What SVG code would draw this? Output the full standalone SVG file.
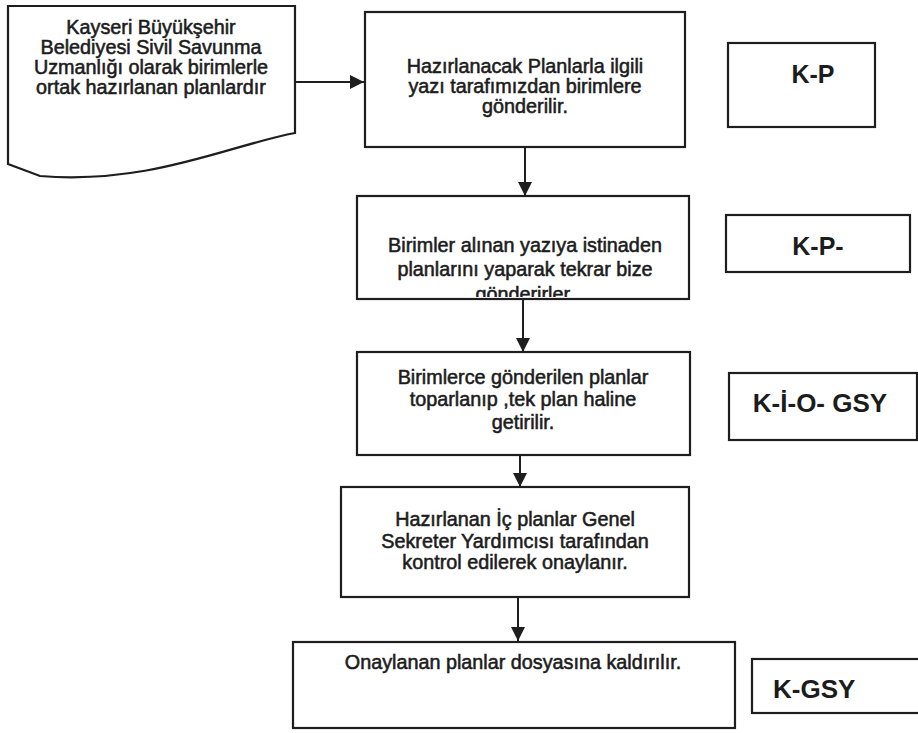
<svg xmlns="http://www.w3.org/2000/svg" width="918" height="733" viewBox="0 0 918 733">
<defs>
<style>
.box{fill:#fff;stroke:#1e1e1e;stroke-width:2.2}
.t{font-family:"Liberation Sans",Arial,sans-serif;font-size:19.8px;fill:#1c1c1c;stroke:#1c1c1c;stroke-width:0.55;text-anchor:middle}
.c{font-family:"Liberation Sans",Arial,sans-serif;font-weight:bold;fill:#1c1c1c}
.ln{stroke:#1e1e1e;stroke-width:2;fill:none}
</style>
<marker id="ah" markerUnits="userSpaceOnUse" markerWidth="14" markerHeight="14" viewBox="0 0 14 14" refX="14" refY="7" orient="auto">
<path d="M0,0 L14,7 L0,14 Z" fill="#1e1e1e"/>
</marker>
<clipPath id="clip3"><rect x="357" y="196" width="332" height="101"/></clipPath>
</defs>
<rect width="918" height="733" fill="#fff"/>
<g id="connectors">
<line class="ln" x1="296" y1="82" x2="364" y2="82" marker-end="url(#ah)"/>
<line class="ln" x1="525" y1="147" x2="525" y2="196" marker-end="url(#ah)"/>
<line class="ln" x1="523" y1="299" x2="523" y2="352" marker-end="url(#ah)"/>
<line class="ln" x1="520" y1="455" x2="520" y2="487" marker-end="url(#ah)"/>
<line class="ln" x1="518" y1="597" x2="518" y2="641" marker-end="url(#ah)"/>
</g>
<g id="doc">
<path class="box" d="M8,6 L295,6 L295,133 C230,145 150,185 40,176 L8,164 Z"/>
<text class="t" x="151" y="34">Kayseri Büyükşehir</text>
<text class="t" x="151" y="54">Belediyesi Sivil Savunma</text>
<text class="t" x="151" y="74">Uzmanlığı olarak birimlerle</text>
<text class="t" x="151" y="94">ortak hazırlanan planlardır</text>
</g>
<g id="n1">
<rect class="box" x="365" y="12" width="320" height="135"/>
<text class="t" x="525" y="73">Hazırlanacak Planlarla ilgili</text>
<text class="t" x="525" y="93">yazı tarafımızdan birimlere</text>
<text class="t" x="525" y="113">gönderilir.</text>
</g>
<g id="n2">
<rect class="box" x="357" y="196" width="332" height="103"/>
<g clip-path="url(#clip3)">
<text class="t" x="525" y="252">Birimler alınan yazıya istinaden</text>
<text class="t" x="525" y="276">planlarını yaparak tekrar bize</text>
<text class="t" x="525" y="301">gönderirler.</text>
</g>
</g>
<g id="n3">
<rect class="box" x="357" y="352" width="333" height="103"/>
<text class="t" x="523" y="384">Birimlerce gönderilen planlar</text>
<text class="t" x="523" y="406">toparlanıp ,tek plan haline</text>
<text class="t" x="523" y="429">getirilir.</text>
</g>
<g id="n4">
<rect class="box" x="341" y="487" width="348" height="110"/>
<text class="t" x="515" y="526">Hazırlanan İç planlar Genel</text>
<text class="t" x="515" y="548">Sekreter Yardımcısı tarafından</text>
<text class="t" x="515" y="569">kontrol edilerek onaylanır.</text>
</g>
<g id="n5">
<rect class="box" x="293" y="642" width="442" height="86"/>
<text class="t" x="513" y="669">Onaylanan planlar dosyasına kaldırılır.</text>
</g>
<g id="l1">
<rect class="box" x="728" y="43" width="147" height="84"/>
<text class="c" x="813" y="83" font-size="25" text-anchor="middle">K-P</text>
</g>
<g id="l2">
<rect class="box" x="726" y="215" width="184" height="57"/>
<text class="c" x="818" y="255" font-size="25" text-anchor="middle">K-P-</text>
</g>
<g id="l3">
<rect class="box" x="729" y="373" width="188" height="67"/>
<text class="c" x="820" y="412" font-size="26" text-anchor="middle">K-İ-O- GSY</text>
</g>
<g id="l4">
<rect class="box" x="752" y="659" width="175" height="54"/>
<text class="c" x="773" y="698" font-size="26">K-GSY</text>
</g>
</svg>
